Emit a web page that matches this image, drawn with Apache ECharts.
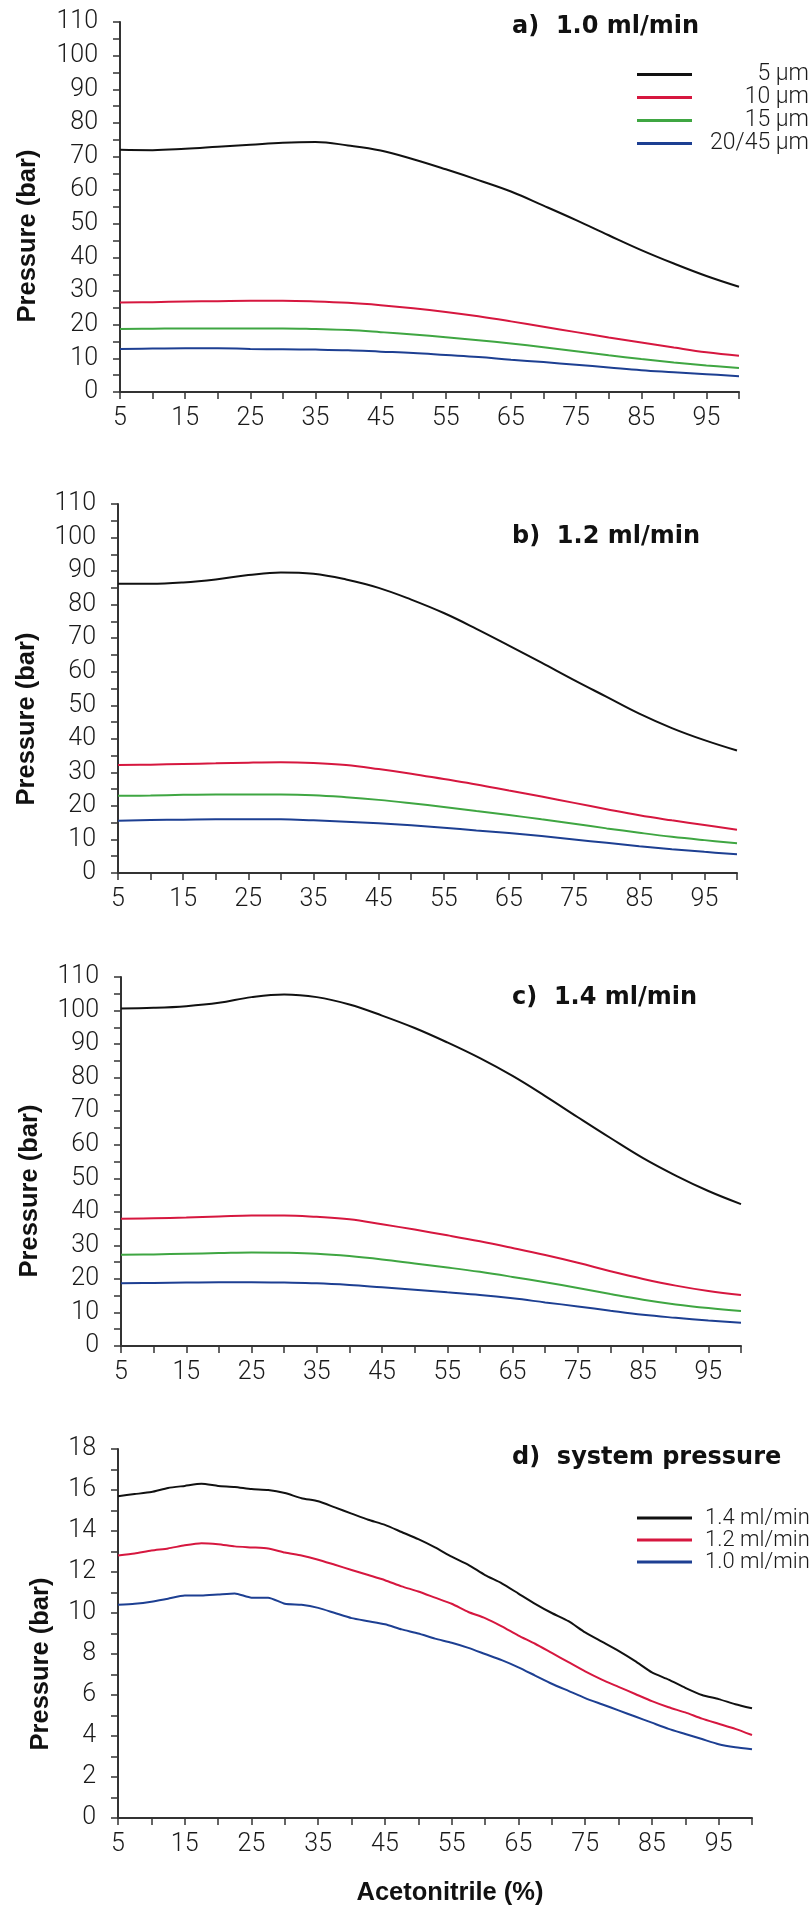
<!DOCTYPE html>
<html>
<head>
<meta charset="utf-8">
<title>Pressure vs acetonitrile</title>
<script src="https://cdn.jsdelivr.net/npm/echarts@6/dist/echarts.min.js"></script>
<style>
  html, body { margin: 0; padding: 0; background: #fff; }
  #chart { width: 811px; height: 1920px; }
</style>
</head>
<body>
<div id="chart"></div>
<script>
// acetonitrile % (panels a-c read every 5 %, panel d every 2.5 %)
var xAbc = [5, 10, 15, 20, 25, 30, 35, 40, 45, 50, 55, 60, 65, 70, 75, 80, 85, 90, 95, 100];
var xD = [5, 7.5, 10, 12.5, 15, 17.5, 20, 22.5, 25, 27.5, 30, 32.5, 35, 37.5, 40, 42.5, 45, 47.5, 50,
          52.5, 55, 57.5, 60, 62.5, 65, 67.5, 70, 72.5, 75, 77.5, 80, 82.5, 85, 87.5, 90, 92.5, 95, 97.5, 100];

var particleNames = ['5 µm', '10 µm', '15 µm', '20/45 µm'];
var flowNames = ['1.4 ml/min', '1.2 ml/min', '1.0 ml/min'];

// a) 1.0 ml/min
var a5  = [72.0, 71.9, 72.3, 72.9, 73.5, 74.1, 74.3, 73.3, 71.8, 69.2, 66.2, 63.0, 59.6, 55.4, 51.1, 46.6, 42.2, 38.2, 34.5, 31.3];
var a10 = [26.6, 26.7, 26.9, 27.0, 27.1, 27.1, 26.9, 26.5, 25.8, 24.9, 23.8, 22.5, 21.0, 19.4, 17.8, 16.2, 14.7, 13.2, 11.8, 10.8];
var a15 = [18.7, 18.8, 18.9, 18.9, 18.9, 18.9, 18.7, 18.4, 17.8, 17.1, 16.3, 15.4, 14.4, 13.3, 12.1, 10.9, 9.8, 8.8, 7.9, 7.1];
var a20 = [12.8, 12.9, 13.0, 13.0, 12.8, 12.7, 12.6, 12.4, 12.0, 11.6, 11.0, 10.4, 9.6, 8.9, 8.1, 7.3, 6.5, 5.9, 5.3, 4.7];

// b) 1.2 ml/min
var b5  = [86.2, 86.2, 86.6, 87.5, 88.8, 89.6, 89.2, 87.5, 85.0, 81.5, 77.5, 72.8, 67.8, 62.7, 57.5, 52.5, 47.5, 43.2, 39.6, 36.5];
var b10 = [32.2, 32.3, 32.5, 32.7, 32.9, 33.0, 32.8, 32.2, 31.0, 29.6, 28.0, 26.4, 24.6, 22.8, 20.9, 19.0, 17.2, 15.7, 14.3, 12.9];
var b15 = [23.0, 23.1, 23.3, 23.4, 23.4, 23.4, 23.2, 22.6, 21.8, 20.8, 19.7, 18.5, 17.3, 16.0, 14.7, 13.3, 12.0, 10.8, 9.8, 8.9];
var b20 = [15.6, 15.8, 15.9, 16.0, 16.0, 16.0, 15.7, 15.3, 14.8, 14.2, 13.5, 12.7, 11.9, 11.0, 10.0, 9.0, 8.0, 7.1, 6.3, 5.6];

// c) 1.4 ml/min
var c5  = [100.6, 100.8, 101.3, 102.3, 104.0, 104.8, 104.0, 101.8, 98.5, 94.8, 90.5, 85.8, 80.5, 74.5, 68.2, 62.0, 56.0, 50.8, 46.2, 42.3];
var c10 = [37.9, 38.1, 38.3, 38.6, 38.9, 38.9, 38.5, 37.8, 36.3, 34.7, 33.0, 31.2, 29.2, 27.1, 24.8, 22.3, 20.0, 18.0, 16.4, 15.2];
var c15 = [27.2, 27.3, 27.5, 27.7, 27.9, 27.8, 27.5, 26.8, 25.8, 24.6, 23.4, 22.1, 20.6, 19.0, 17.3, 15.5, 13.8, 12.4, 11.3, 10.4];
var c20 = [18.7, 18.8, 18.9, 19.0, 19.0, 18.9, 18.7, 18.2, 17.5, 16.8, 16.0, 15.2, 14.2, 13.0, 11.8, 10.5, 9.3, 8.4, 7.6, 6.9];

// d) system pressure
var d14 = [15.7, 15.8, 15.9, 16.1, 16.2, 16.3, 16.2, 16.15, 16.05, 16.0, 15.85, 15.6, 15.45, 15.15, 14.85, 14.55, 14.3, 13.95, 13.6,
           13.2, 12.75, 12.35, 11.85, 11.45, 10.95, 10.45, 10.0, 9.6, 9.05, 8.6, 8.15, 7.65, 7.1, 6.75, 6.35, 6.0, 5.8, 5.55, 5.35];
var d12 = [12.8, 12.9, 13.05, 13.15, 13.3, 13.4, 13.35, 13.25, 13.2, 13.15, 12.95, 12.8, 12.6, 12.35, 12.1, 11.85, 11.6, 11.3, 11.05,
           10.75, 10.45, 10.05, 9.75, 9.35, 8.9, 8.5, 8.05, 7.6, 7.15, 6.75, 6.4, 6.05, 5.7, 5.4, 5.15, 4.85, 4.6, 4.35, 4.05];
var d10 = [10.4, 10.45, 10.55, 10.7, 10.85, 10.85, 10.9, 10.95, 10.75, 10.75, 10.45, 10.4, 10.25, 10.0, 9.75, 9.6, 9.45, 9.2, 9.0,
           8.75, 8.55, 8.3, 8.0, 7.7, 7.35, 6.95, 6.55, 6.2, 5.85, 5.55, 5.25, 4.95, 4.65, 4.35, 4.1, 3.85, 3.6, 3.45, 3.35];

var colBlack = '#111111', colRed = '#d6173f', colGreen = '#3fa642', colBlue = '#1d3f92';
var tickFont = 'Roboto, "Liberation Sans", sans-serif';

function pairs(xs, ys) {
    var out = [];
    for (var i = 0; i < xs.length; i++) out.push([xs[i], ys[i]]);
    return out;
}

function xAx(g) {
    return {
        type: 'value', gridIndex: g, min: 5, max: 100, interval: 5,
        axisLine: { lineStyle: { color: '#333', width: 2 } },
        axisTick: { inside: false, length: 7, lineStyle: { color: '#333', width: 1.5 } },
        splitLine: { show: false },
        axisLabel: {
            margin: 14, fontSize: 25, fontWeight: 300, fontFamily: tickFont, color: '#1a1a1a',
            formatter: function (v) { return (v % 10 === 5) ? String(v) : ''; }
        }
    };
}

function yAx(g, max, step) {
    return {
        type: 'value', gridIndex: g, min: 0, max: max, interval: step,
        axisLine: { show: true, lineStyle: { color: '#333', width: 2 } },
        axisTick: { show: true, inside: false, length: 7, lineStyle: { color: '#333', width: 1.5 } },
        splitLine: { show: false },
        axisLabel: {
            margin: 22, fontSize: 25, fontWeight: 300, fontFamily: tickFont, color: '#1a1a1a',
            formatter: function (v) { return (Math.round(v / step) % 2 === 0) ? String(v) : ''; }
        }
    };
}

function line(name, g, xs, ys, color, smooth) {
    return {
        name: name, type: 'line', xAxisIndex: g, yAxisIndex: g,
        data: pairs(xs, ys), symbol: 'none', smooth: smooth,
        lineStyle: { color: color, width: 2 }, itemStyle: { color: color },
        z: 3
    };
}

var chart = echarts.init(document.getElementById('chart'), null, { renderer: 'canvas' });

var titleStyle = { fontFamily: '"DejaVu Sans", sans-serif', fontWeight: 'bold', fontSize: 24, color: '#111' };
var nameFont = { fontFamily: '"Liberation Sans", Arial, sans-serif', fontWeight: 'bold', fontSize: 25.5, fill: '#111' };

function yName(x, y) {
    return {
        type: 'text', x: x, y: y, rotation: Math.PI / 2,
        style: Object.assign({ text: 'Pressure (bar)', align: 'center', verticalAlign: 'middle' }, nameFont)
    };
}

var legendRich = { fontFamily: tickFont, fontWeight: 300, color: '#1a1a1a' };

option = {
    animation: false,
    backgroundColor: '#fff',
    title: [
        { text: 'a)  1.0 ml/min', left: 512, top: 15, padding: 0, textStyle: titleStyle },
        { text: 'b)  1.2 ml/min', left: 512, top: 525, padding: 0, textStyle: titleStyle },
        { text: 'c)  1.4 ml/min', left: 512, top: 986, padding: 0, textStyle: titleStyle },
        { text: 'd)  system pressure', left: 512, top: 1446, padding: 0, textStyle: titleStyle }
    ],
    legend: [
        {
            data: particleNames, orient: 'vertical', left: 637, top: 63, padding: 0,
            itemWidth: 55, itemHeight: 3, itemGap: 0, icon: 'rect',
            selectedMode: false,
            formatter: '{t|{name}}',
            textStyle: { rich: { t: Object.assign({ width: 112, align: 'right', lineHeight: 22, fontSize: 23 }, legendRich) } }
        },
        {
            data: flowNames, orient: 'vertical', left: 637, top: 1507, padding: 0,
            itemWidth: 55, itemHeight: 3, itemGap: 0, icon: 'rect',
            selectedMode: false,
            formatter: '{t|{name}}',
            textStyle: { rich: { t: Object.assign({ padding: [0, 0, 0, 8], lineHeight: 22.5, fontSize: 22 }, legendRich) } }
        }
    ],
    grid: [
        { left: 120, top: 22, width: 619, height: 370 },
        { left: 118, top: 504, width: 619, height: 369 },
        { left: 121, top: 977, width: 620, height: 369 },
        { left: 118, top: 1449, width: 634, height: 369 }
    ],
    xAxis: [xAx(0), xAx(1), xAx(2), xAx(3)],
    yAxis: [yAx(0, 110, 5), yAx(1, 110, 5), yAx(2, 110, 5), yAx(3, 18, 1)],
    graphic: [
        yName(28, 236), yName(27, 719), yName(30, 1191), yName(41, 1664),
        {
            type: 'text', x: 450, y: 1893,
            style: Object.assign({ text: 'Acetonitrile (%)', align: 'center', verticalAlign: 'middle' }, nameFont)
        }
    ],
    series: [
        line('5 µm', 0, xAbc, a5, colBlack, 0.4),
        line('10 µm', 0, xAbc, a10, colRed, 0.4),
        line('15 µm', 0, xAbc, a15, colGreen, 0.4),
        line('20/45 µm', 0, xAbc, a20, colBlue, 0.4),
        line('b 5 µm', 1, xAbc, b5, colBlack, 0.4),
        line('b 10 µm', 1, xAbc, b10, colRed, 0.4),
        line('b 15 µm', 1, xAbc, b15, colGreen, 0.4),
        line('b 20/45 µm', 1, xAbc, b20, colBlue, 0.4),
        line('c 5 µm', 2, xAbc, c5, colBlack, 0.4),
        line('c 10 µm', 2, xAbc, c10, colRed, 0.4),
        line('c 15 µm', 2, xAbc, c15, colGreen, 0.4),
        line('c 20/45 µm', 2, xAbc, c20, colBlue, 0.4),
        line('1.4 ml/min', 3, xD, d14, colBlack, 0.2),
        line('1.2 ml/min', 3, xD, d12, colRed, 0.2),
        line('1.0 ml/min', 3, xD, d10, colBlue, 0.2)
    ]
};
chart.setOption(option);
</script>
</body>
</html>
